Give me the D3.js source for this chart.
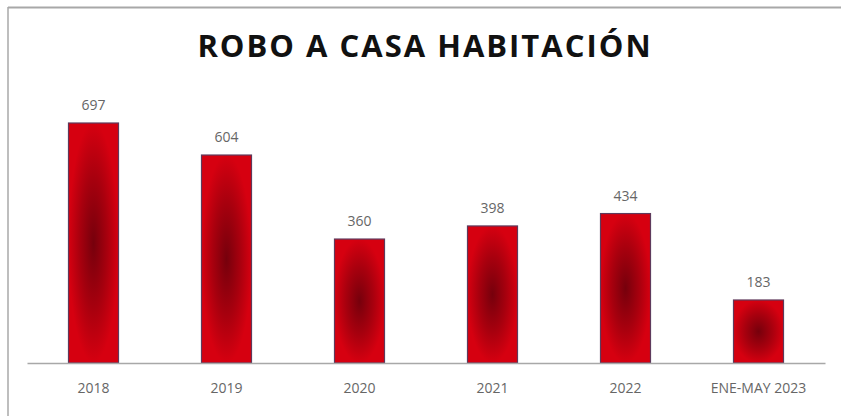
<!DOCTYPE html>
<html><head><meta charset="utf-8">
<script src="https://cdn.jsdelivr.net/npm/d3@7"></script>
<style>html,body{margin:0;padding:0;background:#fff;}svg{display:block;}</style>
</head><body>
<svg id="c" width="841" height="416"></svg>
<script>
const categories = ["2018","2019","2020","2021","2022","ENE-MAY 2023"];
const values = [697, 604, 360, 398, 434, 183];
const title = "ROBO A CASA HABITACIÓN";

const svg = d3.select("#c");
const W = 841, H = 416;
const baseY = 363, x0 = 27, x1 = 825;

// frame
svg.append("line").attr("x1",8).attr("x2",W).attr("y1",7.5).attr("y2",7.5).attr("stroke","#a8a8a8").attr("stroke-width",2);
svg.append("line").attr("x1",8).attr("x2",8).attr("y1",7).attr("y2",H).attr("stroke","#a8a8a8").attr("stroke-width",1.5);

const defs = svg.append("defs");
const g = defs.append("radialGradient").attr("id","bg").attr("cx","50%").attr("cy","50%").attr("r","50%");
g.append("stop").attr("offset","0%").attr("stop-color","#76000c");
g.append("stop").attr("offset","55%").attr("stop-color","#a8000e");
g.append("stop").attr("offset","100%").attr("stop-color","#d60010");

const x = d3.scaleBand().domain(categories).range([x0, x1]).paddingInner(0.624).paddingOuter(0.312);
const y = d3.scaleLinear().domain([0, 800]).range([baseY, baseY - 800 * (240/697)]);

svg.append("text").attr("x",425).attr("y",57).attr("text-anchor","middle")
  .attr("font-family","Open Sans").attr("font-weight",700).attr("font-size",31)
  .attr("letter-spacing",2).attr("fill","#111").text(title);

svg.selectAll("rect.bar").data(values).enter().append("rect").attr("class","bar")
  .attr("x",(d,i)=>x(categories[i])).attr("width",x.bandwidth())
  .attr("y",d=>y(d)).attr("height",d=>baseY-y(d))
  .attr("fill","url(#bg)").attr("stroke","#5e3a5c").attr("stroke-width",1.2);

const axis = d3.axisBottom(x).tickSize(0).tickPadding(20);
const ax = svg.append("g").attr("transform",`translate(0,${baseY})`).call(axis);
ax.select(".domain").attr("stroke","#a8a8a8").attr("stroke-width",1.5);
ax.selectAll("text").attr("font-family","Open Sans").attr("font-size",14).attr("fill","#666");

svg.selectAll("text.val").data(values).enter().append("text").attr("class","val")
  .attr("x",(d,i)=>x(categories[i])+x.bandwidth()/2).attr("y",d=>y(d)-13)
  .attr("text-anchor","middle").attr("font-family","Open Sans").attr("font-size",14)
  .attr("fill","#666").text(d=>d);
</script>
</body></html>
